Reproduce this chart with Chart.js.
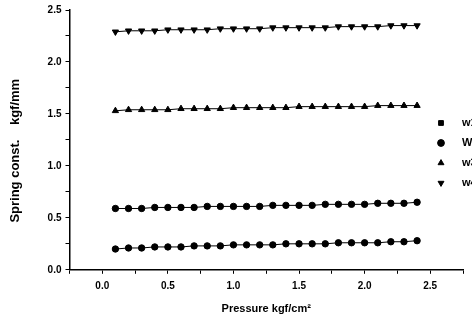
<!DOCTYPE html>
<html>
<head>
<meta charset="utf-8">
<script src="https://cdn.jsdelivr.net/npm/chart.js@4/dist/chart.umd.min.js"></script>
<style>
  html, body { margin: 0; padding: 0; background: #fff; overflow: hidden; }
  #wrap { width: 472px; height: 320px; }
</style>
</head>
<body>
<div id="wrap"><canvas id="mycanvas"></canvas></div>
<script>
var pressure = [0.1, 0.2, 0.3, 0.4, 0.5, 0.6, 0.7, 0.8, 0.9, 1.0, 1.1, 1.2,
                1.3, 1.4, 1.5, 1.6, 1.7, 1.8, 1.9, 2.0, 2.1, 2.2, 2.3, 2.4];
var seriesNames = ['w1', 'W2', 'w3', 'w4'];
var s1 = [0.20, 0.21, 0.21, 0.22, 0.22, 0.22, 0.23, 0.23, 0.23, 0.24, 0.24, 0.24,
          0.24, 0.25, 0.25, 0.25, 0.25, 0.26, 0.26, 0.26, 0.26, 0.27, 0.27, 0.28];
var s2 = [0.59, 0.59, 0.59, 0.60, 0.60, 0.60, 0.60, 0.61, 0.61, 0.61, 0.61, 0.61,
          0.62, 0.62, 0.62, 0.62, 0.63, 0.63, 0.63, 0.63, 0.64, 0.64, 0.64, 0.65];
var s3 = [1.53, 1.54, 1.54, 1.54, 1.54, 1.55, 1.55, 1.55, 1.55, 1.56, 1.56, 1.56,
          1.56, 1.56, 1.57, 1.57, 1.57, 1.57, 1.57, 1.57, 1.58, 1.58, 1.58, 1.58];
var s4 = [2.29, 2.30, 2.30, 2.30, 2.31, 2.31, 2.31, 2.31, 2.32, 2.32, 2.32, 2.32,
          2.33, 2.33, 2.33, 2.33, 2.33, 2.34, 2.34, 2.34, 2.34, 2.35, 2.35, 2.35];
var xTicks = [0.0, 0.5, 1.0, 1.5, 2.0, 2.5];
var yTicks = [0.0, 0.5, 1.0, 1.5, 2.0, 2.5];

function toPoints(vals) {
    var pts = [];
    for (var i in vals) {
        pts.push({x: pressure[i], y: vals[i]});
    }
    return pts;
}

var styles = ['circle', 'circle', 'triangle', 'triangle'];
var legendStyles = ['rect', 'circle', 'triangle', 'triangle'];
var rotations = [0, 0, 0, 180];
var allSeries = [s1, s2, s3, s4];

var datasets = [];
for (var k = 0; k < allSeries.length; k++) {
    datasets.push({
        label: seriesNames[k],
        data: toPoints(allSeries[k]),
        borderColor: '#000',
        backgroundColor: '#000',
        borderWidth: 1,
        pointStyle: styles[k],
        pointRotation: rotations[k],
        pointRadius: k >= 2 ? 3.6 : 3.2,
        pointBorderWidth: 1,
        showLine: true,
        tension: 0
    });
}

// legend drawn inside the plot, right side, clipped at the window edge
var sideLegend = {
    id: 'sideLegend',
    afterDraw: function (chart) {
        var ctx = chart.ctx;
        var area = chart.chartArea;
        var x0 = area.right - 22;
        var y0 = area.top + 113;
        ctx.save();
        ctx.fillStyle = '#000';
        ctx.strokeStyle = '#000';
        ctx.font = 'bold 11px "Liberation Sans", Arial, sans-serif';
        ctx.textBaseline = 'middle';
        for (var k = 0; k < seriesNames.length; k++) {
            var y = y0 + k * 20;
            Chart.helpers.drawPoint(ctx, {
                pointStyle: legendStyles[k],
                rotation: rotations[k],
                radius: 3.4,
                borderWidth: 1
            }, x0, y);
            ctx.fillText(seriesNames[k], x0 + 21, y);
        }
        ctx.restore();
    }
};

var tickFont = {family: '"Liberation Sans", Arial, sans-serif', size: 10, weight: 'bold'};
var xTitleFont = {family: '"Liberation Sans", Arial, sans-serif', size: 11, weight: 'bold'};
var yTitleFont = {family: '"Liberation Sans", Arial, sans-serif', size: 13, weight: 'bold'};

function majorLabel(list) {
    return function (value) {
        for (var i in list) {
            if (Math.abs(list[i] - value) < 1e-6) return list[i].toFixed(1);
        }
        return '';
    };
}

var ctx = document.getElementById('mycanvas');
var chart = new Chart(ctx, {
    type: 'scatter',
    data: {datasets: datasets},
    options: {
        responsive: true,
        maintainAspectRatio: false,
        animation: false,
        layout: {padding: {top: 10, right: 9, left: 4, bottom: 4}},
        plugins: {
            legend: {display: false},
            tooltip: {enabled: false}
        },
        scales: {
            x: {
                type: 'linear',
                min: -0.25,
                max: 2.75,
                border: {display: true, color: '#000', width: 1.5},
                grid: {drawOnChartArea: false, drawTicks: true, tickLength: 4, color: '#000'},
                ticks: {
                    stepSize: 0.25,
                    autoSkip: false,
                    maxRotation: 0,
                    color: '#000',
                    font: tickFont,
                    padding: 6,
                    callback: majorLabel(xTicks)
                },
                title: {
                    display: true,
                    text: 'Pressure kgf/cm\u00b2',
                    color: '#000',
                    font: xTitleFont,
                    padding: {top: 5, bottom: 0}
                }
            },
            y: {
                type: 'linear',
                min: 0,
                max: 2.5,
                border: {display: true, color: '#000', width: 1.5},
                grid: {drawOnChartArea: false, drawTicks: true, tickLength: 4, color: '#000'},
                ticks: {
                    stepSize: 0.25,
                    autoSkip: false,
                    color: '#000',
                    font: tickFont,
                    padding: 4,
                    callback: majorLabel(yTicks)
                },
                title: {
                    display: true,
                    text: 'Spring const.    kgf/mm      ',
                    color: '#000',
                    font: yTitleFont,
                    padding: {top: 4, bottom: 20}
                }
            }
        }
    },
    plugins: [sideLegend]
});
</script>
</body>
</html>
